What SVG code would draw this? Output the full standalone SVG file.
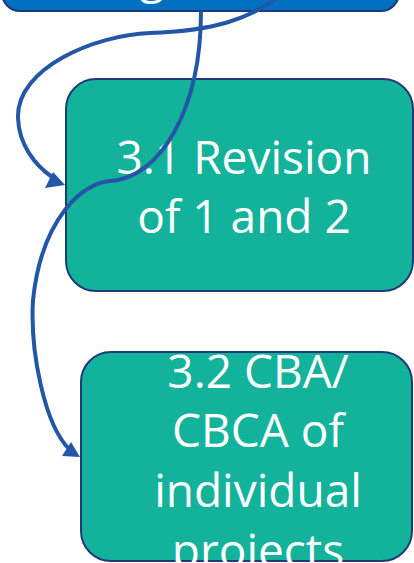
<svg xmlns="http://www.w3.org/2000/svg" width="414" height="563" viewBox="0 0 414 563">
  <style>
    .box { stroke: #1F3A7A; stroke-width: 2; }
    .top { fill: #0070C0; }
    .teal { fill: #13B29B; }
    .lbl { fill: #FFFFFF; font-family: "Open Sans", "DejaVu Sans", sans-serif; font-size: 46px; text-anchor: middle; }
    .conn { fill: none; stroke: #2456A8; stroke-width: 4; }
    .head { fill: #2456A8; }
  </style>
  <rect width="414" height="563" fill="#FFFFFF"/>
  <g id="node-top">
    <rect class="box top" x="2" y="-45" width="397" height="56" rx="18"/>
    <text class="lbl" x="152" y="-7">g</text>
  </g>
  <g id="node-3-1">
    <rect class="box teal" x="66" y="79" width="347" height="212" rx="30"/>
    <text class="lbl" x="244" y="174">3.1 Revision</text>
    <text class="lbl" x="244" y="233">of 1 and 2</text>
  </g>
  <g id="node-3-2">
    <rect class="box teal" x="81" y="352" width="331" height="209" rx="30"/>
    <text class="lbl" x="258" y="388">3.2 CBA/</text>
    <text class="lbl" x="258" y="447">CBCA of</text>
    <text class="lbl" x="258" y="507">individual</text>
    <text class="lbl" x="258" y="567">projects</text>
  </g>
  <g id="connectors">
    <path class="conn" d="M201,11 C201,110 160,178 110,181 C85,182.5 42,215 33,300 C30,350 44,425 70,450"/>
    <polygon class="head" points="62,456 71,442 80,457"/>
    <path class="conn" d="M277,-2 C250,18 215,31 150,33 C95,35 16,68 18,118 C19,145 35,165 52,177"/>
    <polygon class="head" points="45,188 53,172 65,185"/>
  </g>
</svg>
